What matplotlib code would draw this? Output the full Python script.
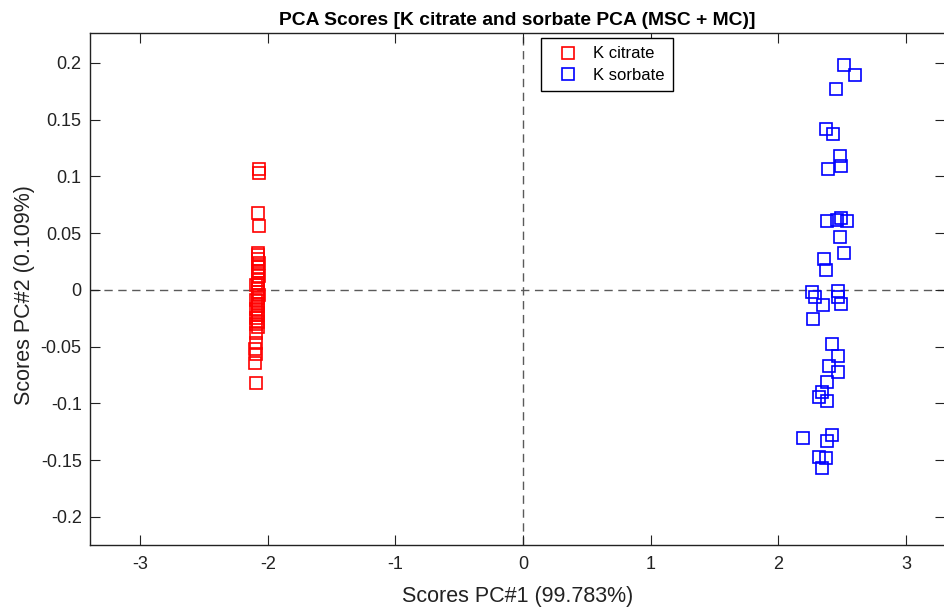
import matplotlib
matplotlib.use("Agg")
import matplotlib.pyplot as plt

plt.rcParams['font.family'] = ['Liberation Sans', 'DejaVu Sans']
plt.rcParams['axes.unicode_minus'] = False

title = "PCA Scores [K citrate and sorbate PCA (MSC + MC)]"
xlabel = "Scores PC#1 (99.783%)"
ylabel = "Scores PC#2 (0.109%)"
series_names = ["K citrate", "K sorbate"]

citrate_pc1 = [-2.07, -2.07, -2.08, -2.07, -2.08, -2.08, -2.08, -2.07, -2.08, -2.08,
               -2.08, -2.07, -2.08, -2.08, -2.09, -2.08, -2.08, -2.07, -2.08, -2.09,
               -2.08, -2.08, -2.09, -2.08, -2.08, -2.09, -2.08, -2.09, -2.08, -2.09,
               -2.09, -2.10, -2.09, -2.10, -2.09]
citrate_pc2 = [0.107, 0.103, 0.068, 0.056, 0.033, 0.031, 0.027, 0.024, 0.020, 0.017,
               0.015, 0.012, 0.009, 0.006, 0.004, 0.001, -0.002, -0.004, -0.007, -0.009,
               -0.012, -0.014, -0.017, -0.020, -0.022, -0.025, -0.028, -0.030, -0.033, -0.038,
               -0.047, -0.052, -0.056, -0.064, -0.082]

sorbate_pc1 = [2.51, 2.60, 2.45, 2.37, 2.43, 2.48, 2.39, 2.49, 2.38, 2.46,
               2.49, 2.54, 2.48, 2.51, 2.36, 2.37, 2.26, 2.29, 2.47, 2.47,
               2.35, 2.49, 2.27, 2.42, 2.47, 2.40, 2.47, 2.38, 2.34, 2.32,
               2.38, 2.19, 2.42, 2.38, 2.32, 2.37, 2.34]
sorbate_pc2 = [0.198, 0.189, 0.177, 0.142, 0.137, 0.118, 0.107, 0.109, 0.061, 0.062,
               0.063, 0.061, 0.047, 0.033, 0.027, 0.018, -0.002, -0.006, -0.001, -0.006,
               -0.013, -0.012, -0.026, -0.048, -0.058, -0.067, -0.072, -0.081, -0.090, -0.094,
               -0.098, -0.130, -0.128, -0.133, -0.147, -0.148, -0.157]

xticks = [-3, -2, -1, 0, 1, 2, 3]
yticks = [-0.2, -0.15, -0.1, -0.05, 0, 0.05, 0.1, 0.15, 0.2]

fig = plt.figure(figsize=(9.45, 6.10), dpi=100)
ax = fig.add_axes([90 / 945, 65 / 610, 855 / 945, 512 / 610])

ax.axvline(0, color='#5a5a5a', linestyle=(0, (6, 4)), linewidth=1.0, zorder=1)
ax.axhline(0, color='#5a5a5a', linestyle=(0, (6, 4)), linewidth=1.0, zorder=1)

ax.plot(citrate_pc1, citrate_pc2, linestyle='none', marker='s', markersize=9,
        markerfacecolor='none', markeredgecolor='red', markeredgewidth=1.2,
        label=series_names[0], zorder=3)
ax.plot(sorbate_pc1, sorbate_pc2, linestyle='none', marker='s', markersize=9,
        markerfacecolor='none', markeredgecolor='blue', markeredgewidth=1.2,
        label=series_names[1], zorder=3)

ax.set_xlim(-3.392, 3.305)
ax.set_ylim(-0.2247, 0.2264)
ax.set_xticks(xticks)
ax.set_xticklabels([f"{t:g}" for t in xticks])
ax.set_yticks(yticks)
ax.set_yticklabels([f"{t:g}" for t in yticks])
ax.tick_params(direction='in', length=7, width=0.8, labelsize=13,
               top=True, right=True, pad=6, colors='#222222')
ax.tick_params(axis='x', pad=8)
for s in ax.spines.values():
    s.set_linewidth(1.0)
    s.set_color('#222222')

ax.set_title(title, fontsize=13.9, fontweight='bold', pad=6)
ax.set_xlabel(xlabel, fontsize=15.5, labelpad=9, color='#222222')
ax.set_ylabel(ylabel, fontsize=15.5, labelpad=4, color='#222222', y=0.488)

leg = ax.legend(loc='upper left', bbox_to_anchor=(541 / 945, 1 - 38 / 610),
                bbox_transform=fig.transFigure, fontsize=12, frameon=True,
                fancybox=False, edgecolor='black', framealpha=1,
                borderpad=0.5, handletextpad=0.38, labelspacing=0.4,
                handlelength=2.24, borderaxespad=0)
leg.get_frame().set_linewidth(1.0)

fig.savefig("out.png", dpi=100)
